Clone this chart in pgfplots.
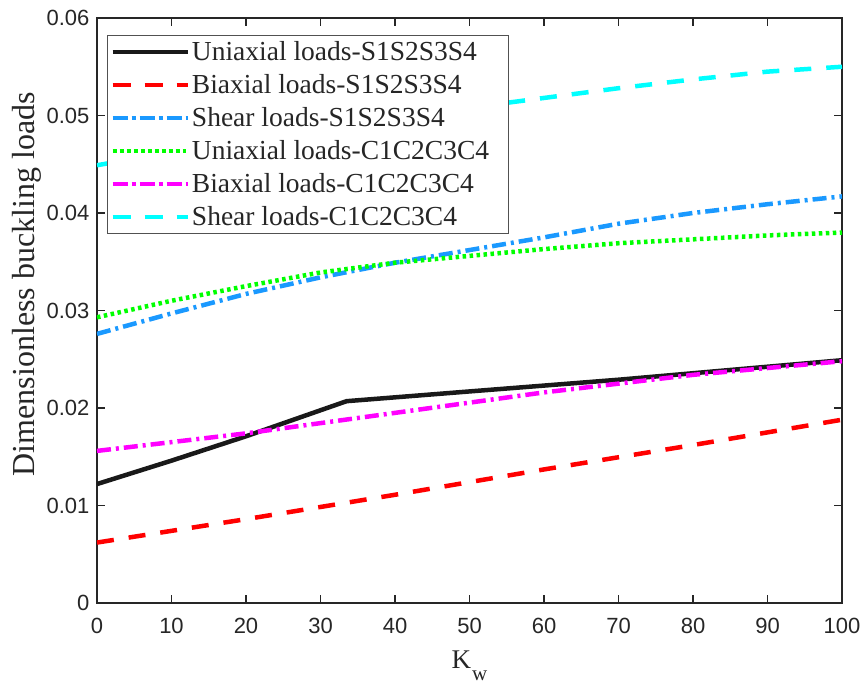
\documentclass[border=0pt]{standalone}
\usepackage{fontspec}
\setmainfont{Liberation Serif}
\newfontfamily\ticksf{Liberation Sans}
\usepackage{pgfplots}
\usepackage{pgfplotstable}
\pgfplotsset{compat=1.18}
\definecolor{axgray}{RGB}{38,38,38}
\definecolor{myblue}{RGB}{26,153,255}
\definecolor{mygreen}{RGB}{0,255,0}
\definecolor{mymag}{RGB}{255,0,255}
\definecolor{mycyan}{RGB}{0,255,255}
\definecolor{myred}{RGB}{255,0,0}

\pgfplotstableread{
x y
0 0.0122
10 0.0146
20 0.0171
33.5 0.0207
50 0.0217
70 0.0229
100 0.0249
}\uniS
\pgfplotstableread{
x y
0 0.0062
20 0.0086
40 0.0111
60 0.0137
80 0.0162
100 0.0188
}\biS
\pgfplotstableread{
x y
0 0.0276
10 0.0297
20 0.0317
30 0.0334
40 0.0349
50 0.0362
60 0.0375
70 0.0389
80 0.0400
90 0.0409
100 0.0417
}\shS
\pgfplotstableread{
x y
0 0.0293
10 0.0310
20 0.0325
30 0.0339
40 0.0349
50 0.0356
60 0.0363
70 0.0369
80 0.0373
90 0.0377
100 0.0380
}\uniC
\pgfplotstableread{
x y
0 0.0156
20 0.0174
40 0.0195
60 0.0216
80 0.0234
100 0.0248
}\biC
\pgfplotstableread{
x y
0 0.0449
10 0.0462
20 0.0475
30 0.0487
40 0.0498
50 0.0508
60 0.0518
70 0.0528
80 0.0537
90 0.0545
100 0.0550
}\shC

\begin{document}
\begin{tikzpicture}
\begin{axis}[
  at={(0pt,0pt)}, anchor=south west,
  scale only axis, width=745pt, height=585pt,
  xmin=0, xmax=100, ymin=0, ymax=0.06,
  xtick={0,10,20,30,40,50,60,70,80,90,100},
  ytick={0,0.01,0.02,0.03,0.04,0.05,0.06},
  yticklabels={0,0.01,0.02,0.03,0.04,0.05,0.06},
  scaled y ticks=false,
  tick align=inside, major tick length=8pt,
  axis line style={axgray, line width=1.2pt},
  every tick/.style={axgray, line width=1.2pt},
  tick label style={font=\ticksf\fontsize{22}{24}\selectfont, text=axgray},
  /pgf/number format/assume math mode=true,
  xticklabel style={yshift=-12pt},
  yticklabel style={xshift=-4pt},
  xlabel={K\kern1pt\raisebox{-12pt}{\fontsize{21}{21}\selectfont w}},
  ylabel={Dimensionless buckling loads},
  label style={text=axgray},
  xlabel style={font=\fontsize{27}{30}\selectfont, at={(axis description cs:0.5,0)}, anchor=base, yshift=-65pt, inner sep=0pt},
  ylabel style={font=\fontsize{32}{34}\selectfont, at={(axis description cs:-0.114,0.545)}, anchor=north, inner sep=0pt},
  legend cell align=left,
  legend style={at={(0.0134,0.971)}, anchor=north west, draw=axgray!80, line width=1pt,
    font=\fontsize{27.5}{30}\selectfont, text=axgray, row sep=8.5pt,
    inner xsep=3pt, inner ysep=4pt,
    nodes={inner sep=2pt}},
  legend image code/.code={\path (-1pt,0pt) -- (74pt,0pt);\draw[#1] (0pt,0pt) -- (68pt,0pt);},
]
\addplot[black!90, line width=4.5pt] table {\uniS};
\addlegendentry{Uniaxial loads-S1S2S3S4\hspace*{14pt}}
\addplot[myred, line width=4.5pt, dash pattern=on 17pt off 15pt] table {\biS};
\addlegendentry{Biaxial loads-S1S2S3S4}
\addplot[myblue, line width=4.5pt, dash pattern=on 14pt off 5pt on 3pt off 5pt] table {\shS};
\addlegendentry{Shear loads-S1S2S3S4}
\addplot[mygreen, line width=4.5pt, dash pattern=on 3.5pt off 3.5pt] table {\uniC};
\addlegendentry{Uniaxial loads-C1C2C3C4\hspace*{14pt}}
\addplot[mymag, line width=4.5pt, dash pattern=on 14pt off 5pt on 3pt off 5pt] table {\biC};
\addlegendentry{Biaxial loads-C1C2C3C4}
\addplot[mycyan, line width=4.5pt, dash pattern=on 17pt off 15pt] table {\shC};
\addlegendentry{Shear loads-C1C2C3C4}
\end{axis}
\pgfresetboundingbox
\path[use as bounding box] (-97pt,-80pt) rectangle (769pt,603pt);
\end{tikzpicture}
\end{document}
